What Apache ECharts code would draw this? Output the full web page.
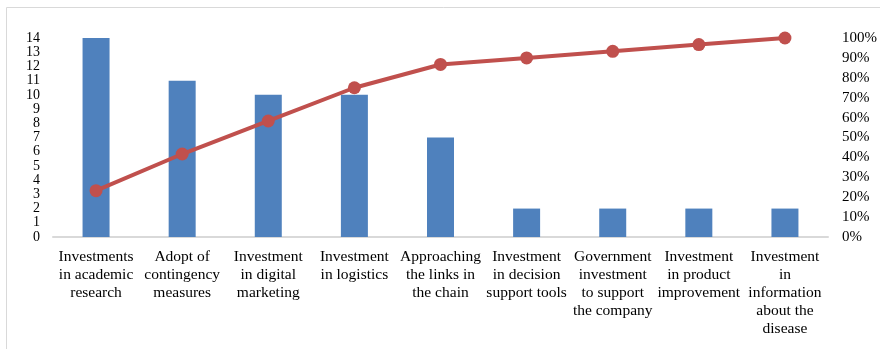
<!DOCTYPE html>
<html>
<head>
<meta charset="utf-8">
<script src="https://cdn.jsdelivr.net/npm/echarts@6/dist/echarts.min.js"></script>
<style>
  html, body { margin: 0; padding: 0; background: #fff; }
  #chart { width: 880px; height: 349px; }
</style>
</head>
<body>
<div id="chart"></div>
<script>
// Pareto chart: investment priorities (counts) with cumulative share
var categories = [
  'Investments\nin academic\nresearch',
  'Adopt of\ncontingency\nmeasures',
  'Investment\nin digital\nmarketing',
  'Investment\nin logistics',
  'Approaching\nthe links in\nthe chain',
  'Investment\nin decision\nsupport tools',
  'Government\ninvestment\nto support\nthe company',
  'Investment\nin product\nimprovement',
  'Investment\nin\ninformation\nabout the\ndisease'
];
var counts = [14, 11, 10, 10, 7, 2, 2, 2, 2];
var cumulativePct = [23.3, 41.7, 58.3, 75.0, 86.7, 90.0, 93.3, 96.7, 100];

var serif = '"Liberation Serif", "Times New Roman", serif';
var chart = echarts.init(document.getElementById('chart'), null, { renderer: 'canvas' });

chart.setOption({
  animation: false,
  graphic: [{
    type: 'rect',
    shape: { x: 6.5, y: 7.5, width: 900, height: 400 },
    style: { fill: 'none', stroke: '#D9D9D9', lineWidth: 1 },
    silent: true
  }],
  grid: { left: 53, right: 52, top: 38, bottom: 112 },
  xAxis: {
    type: 'category',
    data: categories,
    axisLine: { lineStyle: { color: '#D9D9D9', width: 2 } },
    axisTick: { show: false },
    axisLabel: {
      interval: 0,
      color: '#000',
      fontFamily: serif,
      fontSize: 15.5,
      lineHeight: 18,
      margin: 11
    }
  },
  yAxis: [{
    type: 'value',
    min: 0,
    max: 14,
    interval: 1,
    splitLine: { show: false },
    axisLine: { show: false },
    axisTick: { show: false },
    axisLabel: { color: '#000', fontFamily: serif, fontSize: 14, margin: 13 }
  }, {
    type: 'value',
    min: 0,
    max: 100,
    interval: 10,
    splitLine: { show: false },
    axisLine: { show: false },
    axisTick: { show: false },
    axisLabel: {
      color: '#000', fontFamily: serif, fontSize: 15, margin: 14,
      formatter: '{value}%'
    }
  }],
  series: [{
    type: 'bar',
    data: counts,
    barWidth: 27,
    itemStyle: { color: '#4F81BD' }
  }, {
    type: 'line',
    yAxisIndex: 1,
    data: cumulativePct,
    symbol: 'circle',
    symbolSize: 13,
    lineStyle: { color: '#C0504D', width: 4 },
    itemStyle: { color: '#C0504D' }
  }]
});
</script>
</body>
</html>
